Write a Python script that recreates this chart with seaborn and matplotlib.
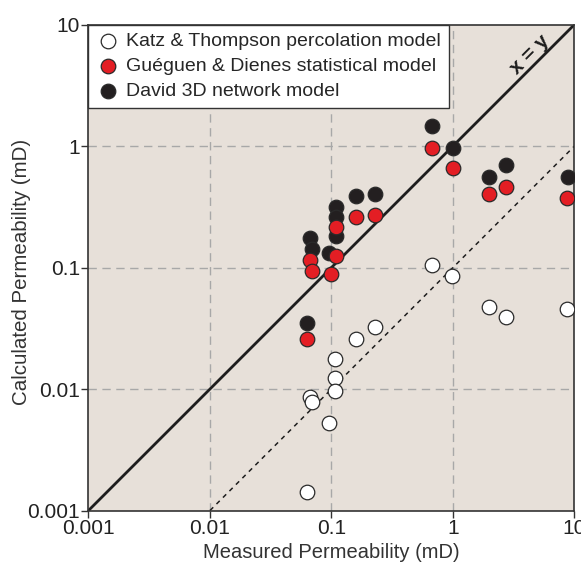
import numpy as np
import pandas as pd
import matplotlib
matplotlib.use("Agg")
import matplotlib.pyplot as plt
import seaborn as sns

# measured permeability (mD) and calculated values per model
katz_measured = [0.0632, 0.0661, 0.0697, 0.096, 0.1076, 0.1076, 0.1076, 0.159, 0.227,
                 0.671, 0.986, 1.97, 2.73, 8.74]
katz_calc = [0.00143, 0.00865, 0.00777, 0.00522, 0.01755, 0.01239, 0.00969, 0.0259, 0.0322,
             0.105, 0.0847, 0.0476, 0.0389, 0.0455]

gueguen_measured = [0.0632, 0.0661, 0.0687, 0.0985, 0.1089, 0.1089, 0.158, 0.227,
                    0.671, 1.006, 1.97, 2.73, 8.67]
gueguen_calc = [0.0259, 0.115, 0.094, 0.0885, 0.215, 0.125, 0.262, 0.269,
                0.957, 0.656, 0.403, 0.457, 0.375]

david_measured = [0.0632, 0.0661, 0.0687, 0.0948, 0.1089, 0.1089, 0.1089, 0.158, 0.227,
                  0.671, 1.006, 1.97, 2.73, 8.85]
david_calc = [0.0349, 0.176, 0.142, 0.131, 0.313, 0.262, 0.183, 0.387, 0.403,
              1.45, 0.957, 0.556, 0.70, 0.556]

decades = [0.001, 0.01, 0.1, 1, 10]
decade_labels = ["0.001", "0.01", "0.1", "1", "10"]

sns.set_style("ticks")
plt.rcParams["font.family"] = ["Liberation Sans", "DejaVu Sans"]

fig = plt.figure(figsize=(5.81, 5.62), dpi=100)
ax = fig.add_axes([0.1523, 0.0916, 0.8365, 0.8648])
ax.set_facecolor("#e7e0d9")
ax.set_xscale("log")
ax.set_yscale("log")
ax.set_xlim(0.001, 10)
ax.set_ylim(0.001, 10)

# grid at inner decades
for d in decades[1:-1]:
    ax.axvline(d, color="#a8a8a8", lw=1, ls=(0, (6, 4)), zorder=1)
    ax.axhline(d, color="#a8a8a8", lw=1, ls=(0, (6, 4)), zorder=1)

# 1:1 line and factor-10 line
ax.plot([0.001, 10], [0.001, 10], color="#1e1e1e", lw=2, zorder=2)
ax.plot([0.01, 10], [0.001, 1], color="#1e1e1e", lw=1.1, ls=(0, (3, 3)), zorder=2)
ax.text(4.3, 5.7, "x = y", rotation=45, fontsize=15, fontweight="bold",
        color="#1e1e1e", ha="center", va="center", zorder=3)

katz = pd.DataFrame({"measured": katz_measured, "calc": katz_calc})
gueguen = pd.DataFrame({"measured": gueguen_measured, "calc": gueguen_calc})
david = pd.DataFrame({"measured": david_measured, "calc": david_calc})

common = dict(x="measured", y="calc", s=110, edgecolor="#2a2a2a", linewidth=0.9, ax=ax)
sns.scatterplot(data=katz, color="white", label="Katz & Thompson percolation model",
                zorder=4, **common)
sns.scatterplot(data=david, color="#231f20", label="David 3D network model",
                zorder=4, **common)
sns.scatterplot(data=gueguen, color="#e31e24", label="Guéguen & Dienes statistical model",
                zorder=5, **common)

handles, labels = ax.get_legend_handles_labels()
order = [0, 2, 1]
leg = ax.legend([handles[i] for i in order], [labels[i] for i in order],
                loc="upper left", borderaxespad=0, fontsize=14, frameon=True,
                fancybox=False, framealpha=1, edgecolor="#333333",
                handletextpad=0.35, labelspacing=0.38, borderpad=0.4,
                handlelength=1.2, markerscale=1.0)
leg.get_frame().set_linewidth(1.0)

ax.set_xticks(decades)
ax.set_xticklabels(decade_labels)
ax.set_yticks(decades)
ax.set_yticklabels(decade_labels)
ax.minorticks_off()
ax.tick_params(labelsize=15, length=5, width=1, color="#333333", labelcolor="#222222", pad=1)

for sp in ax.spines.values():
    sp.set_visible(True)
    sp.set_color("#333333")
    sp.set_linewidth(1.2)

ax.set_xlabel("Measured Permeability (mD)", fontsize=14.5, color="#333333", labelpad=4)
ax.set_ylabel("Calculated Permeability (mD)", fontsize=14.8, color="#333333")
ax.yaxis.set_label_coords(-0.118, 0.49)

fig.savefig("out.png", dpi=100)
